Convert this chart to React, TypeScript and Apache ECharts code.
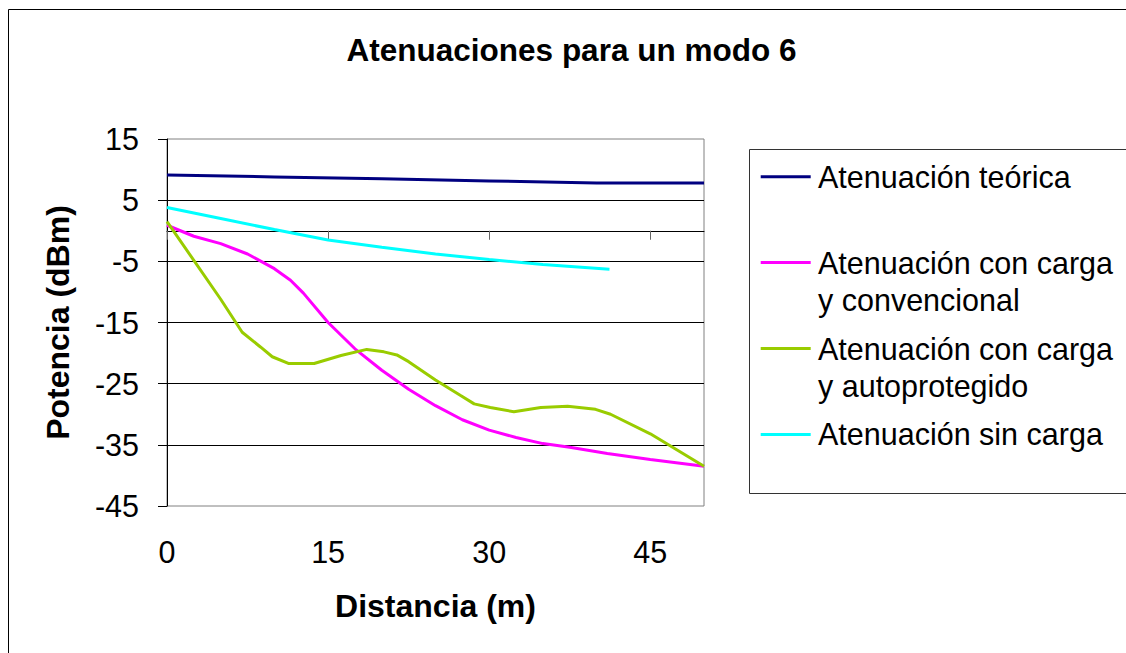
import React, { useEffect, useRef } from 'react';
import * as echarts from 'echarts';

const titleText = 'Atenuaciones para un modo 6';
const xAxisName = 'Distancia (m)';
const yAxisName = 'Potencia (dBm)';
const xTicks = [0, 15, 30, 45];

const seriesNames = [
  'Atenuación teórica',
  'Atenuación con carga y convencional',
  'Atenuación con carga y autoprotegido',
  'Atenuación sin carga',
];
const legendLabels = [
  'Atenuación teórica',
  'Atenuación con carga\ny convencional',
  'Atenuación con carga\ny autoprotegido',
  'Atenuación sin carga',
];
const seriesColors = ['#000080', '#FF00FF', '#99CC00', '#00FFFF'];

const teoricaX = [0, 10, 20, 30, 40, 50];
const teoricaY = [9.1, 8.8, 8.5, 8.15, 7.8, 7.8];

const convencionalX = [0, 2.5, 5, 7.5, 10, 11.5, 12.7, 15, 17.5, 20, 22.5, 25, 27.5, 30, 32.5, 35, 37.5, 41, 45, 50];
const convencionalY = [0.9, -0.9, -2.1, -3.8, -6.2, -8.1, -10.2, -15.0, -19.3, -22.8, -25.9, -28.6, -30.9, -32.6, -33.8, -34.8, -35.4, -36.4, -37.4, -38.5];

const autoprotegidoX = [0, 5, 7, 8.7, 9.8, 11.3, 13.7, 16.2, 18.6, 20.2, 21.4, 22.5, 25, 27.3, 28.6, 30.1, 32.3, 34.8, 37.3, 39.9, 41.3, 45, 50];
const autoprotegidoY = [1.5, -11.2, -16.6, -19.0, -20.6, -21.7, -21.7, -20.4, -19.4, -19.8, -20.3, -21.4, -24.4, -26.9, -28.3, -28.9, -29.6, -28.9, -28.7, -29.2, -30.0, -33.2, -38.5];

const sinCargaX = [0, 5, 10, 15, 20, 25, 30, 35, 41.2];
const sinCargaY = [3.8, 2.0, 0.2, -1.5, -2.7, -3.8, -4.7, -5.5, -6.3];

const seriesX = [teoricaX, convencionalX, autoprotegidoX, sinCargaX];
const seriesY = [teoricaY, convencionalY, autoprotegidoY, sinCargaY];

export default function App() {
  const ref = useRef<HTMLDivElement>(null);

  useEffect(() => {
    if (!ref.current) return;
    const chart = echarts.init(ref.current, null, { renderer: 'svg' });
    const font = "'Liberation Sans', Arial, sans-serif";
    const W = 1118;

    const line = (x1: number, y1: number, x2: number, y2: number, stroke: string, lineWidth: number) => ({
      type: 'line',
      silent: true,
      shape: { x1, y1, x2, y2 },
      style: { stroke, lineWidth },
    });

    const legendTop = 168.7;
    const legendStep = 85.9;
    const legendGraphics: any[] = [
      {
        type: 'rect',
        silent: true,
        shape: { x: 741.5, y: 141.5, width: W - 741.5, height: 344 },
        style: { fill: '#fff' },
      },
      line(741.5, 141.5, W, 141.5, '#333', 1),
      line(741.5, 485.5, W, 485.5, '#333', 1),
      line(741.5, 141.5, 741.5, 485.5, '#333', 1),
    ];
    legendLabels.forEach((label, i) => {
      const cy = legendTop + i * legendStep;
      legendGraphics.push(line(752.7, cy, 802.7, cy, seriesColors[i], 3));
      legendGraphics.push({
        type: 'text',
        silent: true,
        x: 810,
        y: cy - 18.5,
        style: {
          text: label,
          fontSize: 30.5,
          fontFamily: font,
          fill: '#000',
          align: 'left',
          verticalAlign: 'top',
          lineHeight: 37,
        },
      });
    });

    const option: any = {
      animation: false,
      backgroundColor: '#fff',
      grid: {
        left: 159,
        top: 131,
        width: 537,
        height: 367,
        show: true,
        borderColor: '#808080',
        borderWidth: 1,
        backgroundColor: 'transparent',
      },
      xAxis: [
        {
          type: 'value',
          min: 0,
          max: 50,
          interval: 15,
          position: 'bottom',
          axisLine: { show: false, onZero: false },
          axisTick: { show: false },
          splitLine: { show: false },
          axisLabel: {
            customValues: xTicks,
            fontSize: 30.5,
            color: '#000',
            fontFamily: font,
            margin: 30,
          },
          name: xAxisName,
          nameLocation: 'middle',
          nameGap: 84,
          nameTextStyle: { fontSize: 32, fontWeight: 'bold', color: '#000', fontFamily: font },
        },
        {
          type: 'value',
          min: 0,
          max: 50,
          interval: 15,
          position: 'bottom',
          axisLine: { show: true, onZero: true, lineStyle: { color: '#000', width: 1 } },
          axisTick: { show: true, length: 9, customValues: xTicks, lineStyle: { color: '#666', width: 1 } },
          axisLabel: { show: false },
          splitLine: { show: false },
        },
      ],
      yAxis: {
        type: 'value',
        min: -45,
        max: 15,
        interval: 10,
        axisLine: { show: true, onZero: false, lineStyle: { color: '#000', width: 1 } },
        axisTick: { show: true, length: 9, lineStyle: { color: '#000', width: 1 } },
        axisLabel: { fontSize: 30.5, color: '#000', fontFamily: font, margin: 28 },
        splitLine: {
          show: true,
          showMinLine: false,
          showMaxLine: false,
          lineStyle: { color: '#000', width: 1 },
        },
        name: yAxisName,
        nameLocation: 'middle',
        nameGap: 93,
        nameRotate: 90,
        nameTextStyle: { fontSize: 32, fontWeight: 'bold', color: '#000', fontFamily: font },
      },
      series: seriesNames.map((name, i) => ({
        name,
        type: 'line',
        xAxisIndex: 0,
        yAxisIndex: 0,
        showSymbol: false,
        symbol: 'none',
        smooth: false,
        lineStyle: { color: seriesColors[i], width: 3 },
        itemStyle: { color: seriesColors[i] },
        data: seriesX[i].map((x, j) => [x, seriesY[i][j]]),
      })),
      graphic: [
        line(0.5, 1.5, W, 1.5, '#000', 1),
        line(0.5, 1.5, 0.5, 645, '#000', 1),
        {
          type: 'text',
          silent: true,
          x: 563.5,
          y: 42.3,
          style: {
            text: titleText,
            fontSize: 31.5,
            fontWeight: 'bold',
            fontFamily: font,
            fill: '#000',
            align: 'center',
            verticalAlign: 'middle',
          },
        },
        ...legendGraphics,
      ],
    };

    chart.setOption(option);
    return () => {
      chart.dispose();
    };
  }, []);

  return (
    <div
      ref={ref}
      style={{ position: 'absolute', left: 8, top: 8, width: 1118, height: 645, overflow: 'hidden' }}
    />
  );
}
